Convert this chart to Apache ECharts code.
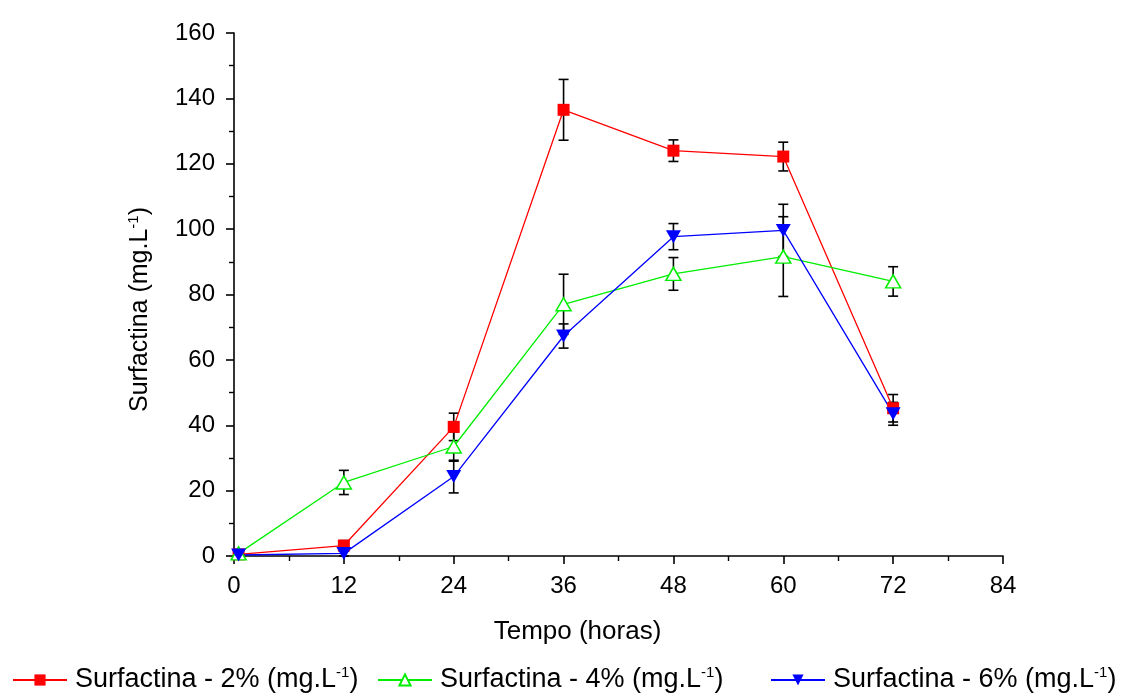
<!DOCTYPE html>
<html>
<head>
<meta charset="utf-8">
<script src="https://cdn.jsdelivr.net/npm/echarts@6/dist/echarts.min.js"></script>
<style>html,body{margin:0;padding:0;background:#fff}#c{width:1138px;height:693px}</style>
</head>
<body>
<div id="c"></div>
<script>
// Data
const times = [0.5, 12, 24, 36, 48, 60, 72];
const red2 = [0.5, 3.2, 39.5, 136.5, 124, 122.2, 45.2];
const red2Err = [0.5, 1.5, 4.2, 9.3, 3.3, 4.4, 4.2];
const green4 = [0.8, 22.5, 33.5, 77.0, 86.3, 91.6, 84.0];
const green4Err = [0.8, 3.7, 4.5, 9.2, 5.0, 12.2, 4.5];
const blue6 = [0.3, 0.8, 24.3, 67.3, 97.7, 99.6, 43.5];
const blue6Err = [0.3, 0.8, 5.0, 3.7, 4.0, 8.0, 3.5];
const names = ['Surfactina - 2% (mg.L-1)', 'Surfactina - 4% (mg.L-1)', 'Surfactina - 6% (mg.L-1)'];

const FONT = 'Liberation Sans, Arial, sans-serif';
const pts = (ys) => times.map((t, i) => [t, ys[i]]);
const errs = (ys, es) => times.map((t, i) => [t, ys[i] - es[i], ys[i] + es[i]]);

function errorSeries(ys, es) {
  return {
    type: 'custom',
    z: 1,
    silent: true,
    data: errs(ys, es),
    renderItem: function (params, api) {
      const x = api.value(0);
      const top = api.coord([x, api.value(2)]);
      const bot = api.coord([x, api.value(1)]);
      const hw = 5;
      const st = { stroke: '#000', lineWidth: 1.6 };
      return {
        type: 'group',
        children: [
          { type: 'line', shape: { x1: top[0], y1: top[1], x2: bot[0], y2: bot[1] }, style: st },
          { type: 'line', shape: { x1: top[0] - hw, y1: top[1], x2: top[0] + hw, y2: top[1] }, style: st },
          { type: 'line', shape: { x1: bot[0] - hw, y1: bot[1], x2: bot[0] + hw, y2: bot[1] }, style: st }
        ]
      };
    }
  };
}

function makeRich(big, small, lh) {
  return {
    a: { fontSize: big, fontFamily: FONT, color: '#000', lineHeight: lh },
    s: { fontSize: small, fontFamily: FONT, color: '#000', lineHeight: lh, verticalAlign: 'top' }
  };
}
function richName(n) {
  return '{a|' + n.replace('-1)', '') + '}{s|-1}{a|)}';
}
function legendAt(name, left) {
  return {
    data: [name], left: left, top: 660, itemWidth: 54, itemHeight: 14,
    formatter: richName,
    textStyle: { rich: makeRich(27, 15, 30), padding: [0, 0, 0, 3] }
  };
}

const chart = echarts.init(document.getElementById('c'));
chart.setOption({
  animation: false,
  backgroundColor: '#fff',
  grid: { left: 234, right: 135, top: 33, bottom: 137 },
  legend: [legendAt(names[0], 7), legendAt(names[1], 372), legendAt(names[2], 765)],
  xAxis: {
    type: 'value', min: 0, max: 84, interval: 12,
    name: 'Tempo (horas)', nameLocation: 'middle', nameGap: 63,
    nameTextStyle: { fontSize: 26, fontFamily: FONT, color: '#000', padding: [0, 82, 0, 0] },
    axisLine: { lineStyle: { color: '#000', width: 1.6 } },
    axisTick: { inside: false, length: 8, lineStyle: { color: '#000', width: 1.6 } },
    minorTick: { show: true, splitNumber: 2, length: 5, lineStyle: { color: '#000', width: 1.4 } },
    axisLabel: { fontSize: 24, fontFamily: FONT, color: '#000', margin: 18 },
    splitLine: { show: false }
  },
  yAxis: {
    type: 'value', min: 0, max: 160, interval: 20,
    name: '{a|Surfactina (mg.L}{s|-1}{a|)}', nameLocation: 'middle', nameGap: 80, nameRotate: 90,
    nameTextStyle: { rich: makeRich(25, 15, 28), padding: [0, 30, 0, 0] },
    axisLine: { show: true, lineStyle: { color: '#000', width: 1.6 } },
    axisTick: { show: true, inside: false, length: 8, lineStyle: { color: '#000', width: 1.6 } },
    minorTick: { show: true, splitNumber: 2, length: 5, lineStyle: { color: '#000', width: 1.4 } },
    axisLabel: { fontSize: 24, fontFamily: FONT, color: '#000', margin: 19 },
    splitLine: { show: false }
  },
  series: [
    errorSeries(red2, red2Err),
    errorSeries(green4, green4Err),
    errorSeries(blue6, blue6Err),
    {
      name: names[0], type: 'line', z: 3, data: pts(red2),
      symbol: 'rect', symbolSize: 12,
      itemStyle: { color: '#ff0000' },
      lineStyle: { color: '#ff0000', width: 1.3 }
    },
    {
      name: names[1], type: 'line', z: 3, data: pts(green4),
      symbol: 'triangle', symbolSize: [15, 13],
      itemStyle: { color: '#ffffff', borderColor: '#00ee00', borderWidth: 1.5 },
      lineStyle: { color: '#00ee00', width: 1.3 }
    },
    {
      name: names[2], type: 'line', z: 3, data: pts(blue6),
      symbol: 'triangle', symbolSize: [15, 13], symbolRotate: 180,
      itemStyle: { color: '#0000ff' },
      lineStyle: { color: '#0000ff', width: 1.3 }
    }
  ]
});
</script>
</body>
</html>
